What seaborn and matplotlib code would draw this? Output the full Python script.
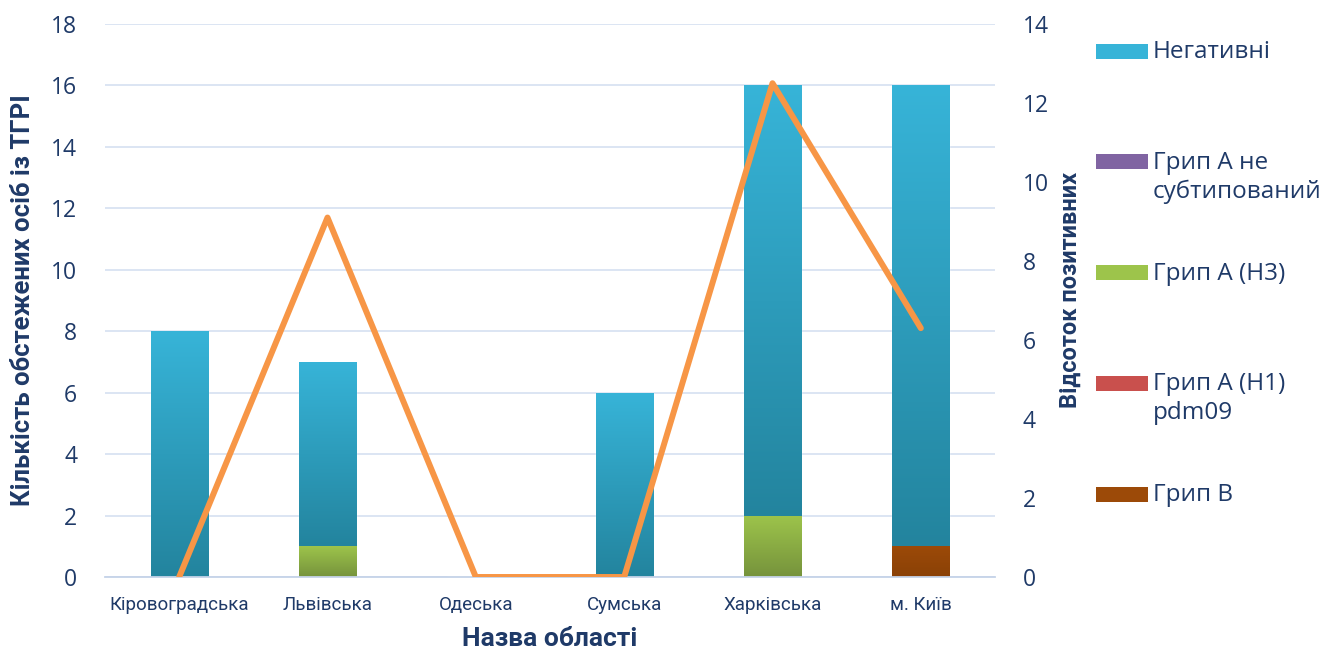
import numpy as np
import pandas as pd
import matplotlib
matplotlib.use("Agg")
import matplotlib.pyplot as plt
from matplotlib.colors import LinearSegmentedColormap
from matplotlib.patches import Rectangle
import seaborn as sns

# data
regions = ["Кіровоградська", "Львівська", "Одеська", "Сумська", "Харківська", "м. Київ"]
flu_b = [0, 0, 0, 0, 0, 1]
flu_h1 = [0, 0, 0, 0, 0, 0]
flu_h3 = [0, 1, 0, 0, 2, 0]
flu_a_ns = [0, 0, 0, 0, 0, 0]
negative = [8, 6, 0, 6, 14, 15]
pct_positive = [0, 9.1, 0, 0, 12.5, 6.3]

# stacking order bottom -> top
series = [
    ("Грип В", flu_b, ("#8A4106", "#9C4A08")),
    ("Грип А (Н1)\npdm09", flu_h1, ("#9B3330", "#C9504D")),
    ("Грип А (Н3)", flu_h3, ("#76933C", "#9DC44B")),
    ("Грип А не\nсубтипований", flu_a_ns, ("#5F4A80", "#8064A2")),
    ("Негативні", negative, ("#23849E", "#37B4D8")),
]

txt = "#1F3A68"
narrow = ["Roboto", "DejaVu Sans"]

sns.set_theme(style="white")
plt.rcParams["font.family"] = ["Open Sans", "DejaVu Sans"]

fig = plt.figure(figsize=(13.31, 6.54), dpi=100)
ax = fig.add_axes([105 / 1331, 77 / 654, 890 / 1331, 553 / 654])

bottom = np.zeros(len(regions))
for name, vals, (c0, c1) in series:
    df = pd.DataFrame({"region": regions, "value": vals})
    n_before = len(ax.patches)
    sns.barplot(data=df, x="region", y="value", color=c1, width=0.385,
                bottom=bottom, ax=ax, saturation=1, zorder=2)
    cmap = LinearSegmentedColormap.from_list(name, [c0, c1])
    for p in ax.patches[n_before:]:
        x0, y0 = p.get_x(), p.get_y()
        w, h = p.get_width(), p.get_height()
        if h <= 0:
            continue
        im = ax.imshow(np.linspace(0, 1, 256).reshape(-1, 1), cmap=cmap,
                       origin="lower", aspect="auto",
                       extent=[x0, x0 + w, y0, y0 + h], zorder=2.5)
        im.set_clip_path(p)
    bottom = bottom + np.array(vals)

ax.set_xlim(-0.5, len(regions) - 0.5)
ax.set_ylim(0, 18)
ax.set_yticks(range(0, 19, 2))
ax.grid(axis="y", color="#D9E3F2", linewidth=1.3, zorder=0)
ax.set_axisbelow(True)
for s in ["top", "right", "left"]:
    ax.spines[s].set_visible(False)
ax.spines["bottom"].set_color("#C5D3E8")
ax.spines["bottom"].set_linewidth(1.3)
ax.tick_params(axis="y", length=0, pad=20, labelsize=16.5, labelcolor=txt)
ax.tick_params(axis="x", length=0, pad=14, labelcolor=txt)
for lab in ax.get_xticklabels():
    lab.set_fontfamily(narrow)
    lab.set_fontsize(13.5)

ax.set_xlabel("Назва області", fontsize=19, fontweight="bold", color=txt,
              family=narrow)
ax.xaxis.set_label_coords(0.5, -0.09)
ax.set_ylabel("Кількість обстежених осіб із ТГРІ", fontsize=18.5,
              fontweight="bold", color=txt, family=narrow)
ax.yaxis.set_label_coords(-0.079, 0.5)

ax2 = ax.twinx()
sns.lineplot(x=np.arange(len(regions)), y=pct_positive, ax=ax2,
             color="#F79646", linewidth=4.3, solid_capstyle="round",
             solid_joinstyle="round", zorder=5)
ax2.set_ylim(0, 14)
ax2.set_yticks(range(0, 15, 2))
ax2.set_xlim(-0.5, len(regions) - 0.5)
for s in ax2.spines.values():
    s.set_visible(False)
ax2.grid(False)
ax2.tick_params(axis="y", length=0, pad=20, labelsize=16.5, labelcolor=txt)
ax2.set_ylabel("Відсоток позитивних", fontsize=17, fontweight="bold",
               color=txt, family=narrow)
ax2.yaxis.set_label_coords(1.072, 0.519)

# legend on the right, top entry first
for i, (name, vals, (c0, c1)) in enumerate(reversed(series)):
    yc = 51 + i * 110.8
    fig.patches.append(Rectangle((1096 / 1331, 1 - (yc + 7.5) / 654),
                                 52 / 1331, 15 / 654, transform=fig.transFigure,
                                 facecolor=c1, edgecolor="none"))
    fig.text(1153 / 1331, 1 - (yc - 11) / 654, name, fontsize=17.5, color=txt,
             va="top", ha="left", linespacing=1.25)

fig.savefig("out.png", dpi=100)
